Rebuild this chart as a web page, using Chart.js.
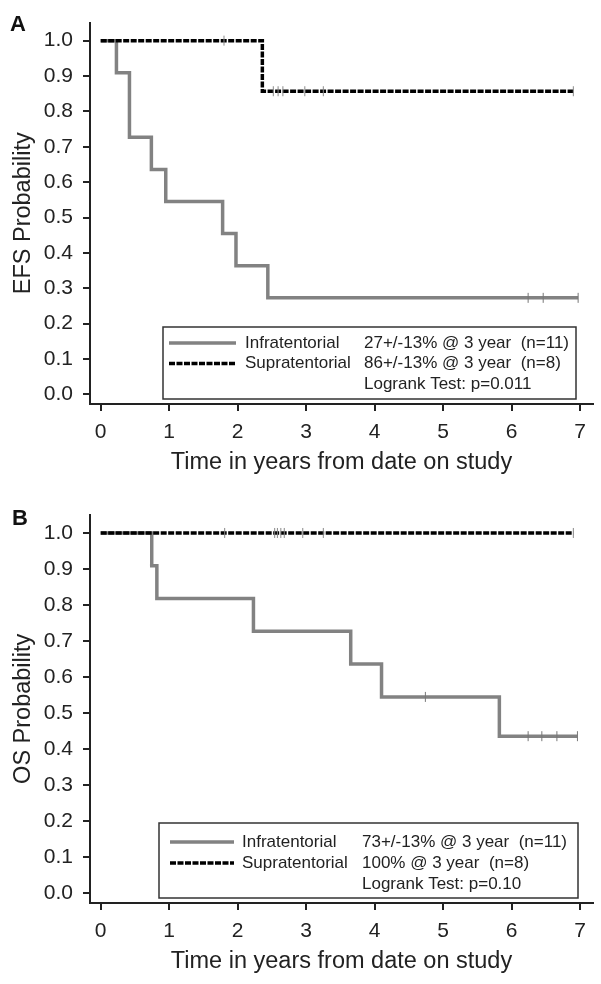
<!DOCTYPE html>
<html>
<head>
<meta charset="utf-8">
<script src="https://cdn.jsdelivr.net/npm/chart.js@4.4.0/dist/chart.umd.min.js"></script>
<style>
  html, body { margin: 0; padding: 0; background: #fff; }
  canvas { display: block; }
</style>
</head>
<body>
<canvas id="efs" width="601" height="492"></canvas>
<canvas id="os" width="601" height="492"></canvas>
<script>
// axis ticks
const xTicks = [0, 1, 2, 3, 4, 5, 6, 7];
const yTicks = [0, 0.1, 0.2, 0.3, 0.4, 0.5, 0.6, 0.7, 0.8, 0.9, 1.0];
const groupNames = ['Infratentorial', 'Supratentorial'];

// Panel A - event free survival
const efsInfraTimes = [0, 0.23, 0.42, 0.74, 0.95, 1.78, 1.975, 2.44, 6.97];
const efsInfraSurv = [1, 0.909, 0.727, 0.636, 0.545, 0.455, 0.364, 0.273, 0.273];
const efsInfraCensorTimes = [6.24, 6.46, 6.97];
const efsInfraCensorSurv = [0.273, 0.273, 0.273];
const efsSupraTimes = [0, 2.36, 6.9];
const efsSupraSurv = [1, 0.857, 0.857];
const efsSupraCensorTimes = [1.8, 2.52, 2.59, 2.66, 2.98, 3.25, 6.9];
const efsSupraCensorSurv = [1, 0.857, 0.857, 0.857, 0.857, 0.857, 0.857];
const efsStats = ['27+/-13% @ 3 year  (n=11)', '86+/-13% @ 3 year  (n=8)'];
const efsLogrank = 'Logrank Test: p=0.011';

// Panel B - overall survival
const osInfraTimes = [0, 0.745, 0.82, 2.23, 3.65, 4.10, 5.82, 6.96];
const osInfraSurv = [1, 0.909, 0.818, 0.727, 0.636, 0.545, 0.436, 0.436];
const osInfraCensorTimes = [4.74, 6.24, 6.44, 6.66, 6.96];
const osInfraCensorSurv = [0.545, 0.436, 0.436, 0.436, 0.436];
const osSupraTimes = [0, 6.9];
const osSupraSurv = [1, 1];
const osSupraCensorTimes = [1.81, 2.54, 2.58, 2.63, 2.68, 2.95, 3.25, 6.9];
const osSupraCensorSurv = [1, 1, 1, 1, 1, 1, 1, 1];
const osStats = ['73+/-13% @ 3 year  (n=11)', '100% @ 3 year  (n=8)'];
const osLogrank = 'Logrank Test: p=0.10';

const FONT = 'Arial, "Liberation Sans", Helvetica, sans-serif';
const INK = '#222';
const GRAY = '#828282';

function pts(xs, ys) {
    return xs.map((x, i) => ({ x: x, y: ys[i] }));
}

// draws panel letter and the boxed legend
const kmDecor = {
    id: 'kmDecor',
    afterDraw(chart, args, o) {
        const ctx = chart.ctx;
        ctx.save();
        ctx.fillStyle = '#111';
        ctx.textBaseline = 'middle';
        ctx.textAlign = 'center';
        ctx.font = 'bold 22px ' + FONT;
        ctx.fillText(o.letter, o.letterX, o.letterY);

        const b = o.box;
        ctx.strokeStyle = '#333';
        ctx.lineWidth = 1.5;
        ctx.strokeRect(b[0], b[1], b[2] - b[0], b[3] - b[1]);

        ctx.lineWidth = 3.5;
        ctx.strokeStyle = GRAY;
        ctx.beginPath();
        ctx.moveTo(o.sample[0], o.rows[0]);
        ctx.lineTo(o.sample[1], o.rows[0]);
        ctx.stroke();
        ctx.strokeStyle = '#000';
        ctx.setLineDash([6, 1.5]);
        ctx.beginPath();
        ctx.moveTo(o.sample[0], o.rows[1]);
        ctx.lineTo(o.sample[1], o.rows[1]);
        ctx.stroke();
        ctx.setLineDash([]);

        ctx.font = '17px ' + FONT;
        ctx.textAlign = 'left';
        ctx.fillStyle = INK;
        groupNames.forEach((n, i) => ctx.fillText(n, o.labelX, o.rows[i]));
        o.stats.forEach((s, i) => ctx.fillText(s, o.statX, o.rows[i]));
        ctx.fillText(o.logrank, o.statX, o.rows[2]);
        ctx.restore();
    }
};

function makeChart(id, cfg) {
    const ctx = document.getElementById(id).getContext('2d');
    new Chart(ctx, {
        type: 'line',
        data: {
            datasets: [{
                label: groupNames[1],
                data: pts(cfg.supraT, cfg.supraS),
                stepped: 'before',
                borderColor: '#000',
                borderWidth: 3.5,
                borderDash: [6, 1.5],
                pointRadius: 0,
                order: 1
            }, {
                label: groupNames[0],
                data: pts(cfg.infraT, cfg.infraS),
                stepped: 'before',
                borderColor: GRAY,
                borderWidth: 3.5,
                pointRadius: 0,
                order: 2
            }, {
                label: 'censor infra',
                data: pts(cfg.infraCT, cfg.infraCS),
                showLine: false,
                pointStyle: 'line',
                pointRotation: 90,
                pointRadius: 5,
                pointBorderWidth: 1,
                pointBorderColor: '#777',
                order: 0
            }, {
                label: 'censor supra',
                data: pts(cfg.supraCT, cfg.supraCS),
                showLine: false,
                pointStyle: 'line',
                pointRotation: 90,
                pointRadius: 5,
                pointBorderWidth: 1,
                pointBorderColor: '#888',
                order: 0
            }]
        },
        options: {
            responsive: false,
            animation: false,
            devicePixelRatio: 1,
            events: [],
            layout: { padding: { top: cfg.padTop, right: 8, left: 0, bottom: 0 } },
            plugins: {
                legend: { display: false },
                tooltip: { enabled: false },
                kmDecor: cfg.decor
            },
            scales: {
                x: {
                    type: 'linear',
                    min: -0.156,
                    max: 7.187,
                    afterFit: function (s) { s.height = cfg.xHeight; },
                    afterBuildTicks: function (s) { s.ticks = xTicks.map(v => ({ value: v })); },
                    border: { display: true, color: INK, width: 2 },
                    grid: { drawOnChartArea: false, drawTicks: true, tickLength: 7, color: INK, lineWidth: 2 },
                    ticks: { color: INK, font: { family: FONT, size: 21 }, padding: 9, maxRotation: 0 },
                    title: {
                        display: true,
                        text: 'Time in years from date on study',
                        color: INK,
                        font: { family: FONT, size: 23.5 },
                        padding: { top: 0, bottom: cfg.xTitlePad }
                    }
                },
                y: {
                    min: -0.027,
                    max: 1.051,
                    afterFit: function (s) { s.width = 90; },
                    afterBuildTicks: function (s) { s.ticks = yTicks.map(v => ({ value: v })); },
                    border: { display: true, color: INK, width: 2 },
                    grid: { drawOnChartArea: false, drawTicks: true, tickLength: 7, color: INK, lineWidth: 2 },
                    ticks: {
                        color: INK,
                        font: { family: FONT, size: 21 },
                        padding: 10,
                        callback: function (v) { return v.toFixed(1); }
                    },
                    title: {
                        display: true,
                        text: cfg.yTitle,
                        color: INK,
                        font: { family: FONT, size: 23.5 },
                        padding: { top: 9, bottom: 0 }
                    }
                }
            }
        },
        plugins: [kmDecor]
    });
}

makeChart('efs', {
    infraT: efsInfraTimes, infraS: efsInfraSurv,
    infraCT: efsInfraCensorTimes, infraCS: efsInfraCensorSurv,
    supraT: efsSupraTimes, supraS: efsSupraSurv,
    supraCT: efsSupraCensorTimes, supraCS: efsSupraCensorSurv,
    yTitle: 'EFS Probability',
    padTop: 8, xHeight: 88, xTitlePad: 15,
    decor: {
        letter: 'A', letterX: 18, letterY: 25,
        box: [163, 327, 576, 399],
        sample: [169, 236],
        rows: [343, 363.5, 384],
        labelX: 245, statX: 364,
        stats: efsStats, logrank: efsLogrank
    }
});

makeChart('os', {
    infraT: osInfraTimes, infraS: osInfraSurv,
    infraCT: osInfraCensorTimes, infraCS: osInfraCensorSurv,
    supraT: osSupraTimes, supraS: osSupraSurv,
    supraCT: osSupraCensorTimes, supraCS: osSupraCensorSurv,
    yTitle: 'OS Probability',
    padTop: 16, xHeight: 81, xTitlePad: 8,
    decor: {
        letter: 'B', letterX: 20, letterY: 27,
        box: [159, 331, 578, 406],
        sample: [170, 234],
        rows: [350, 371, 392],
        labelX: 242, statX: 362,
        stats: osStats, logrank: osLogrank
    }
});
</script>
</body>
</html>
